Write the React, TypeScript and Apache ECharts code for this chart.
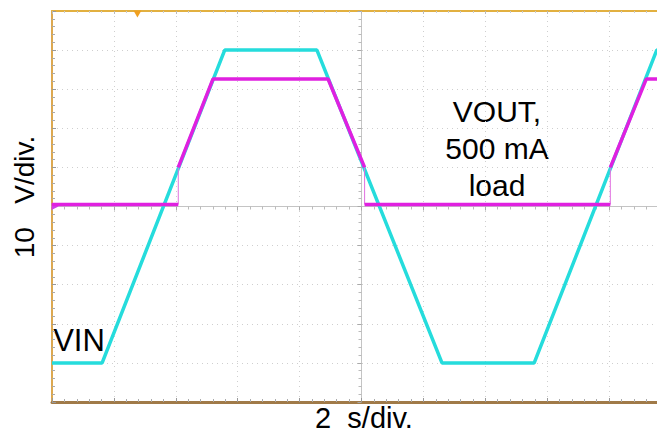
import React, { useEffect, useRef } from "react";
import * as echarts from "echarts";

// Oscilloscope screen in divisions: x -5..5 (2 s/div), y -5..5 (10 V/div)
const divRange = [-5, 5];

// VIN (cyan) trace, division coordinates
const vinX = [-5, -4.19, -2.21, -0.72, 1.3, 2.79, 4.77, 5];
const vinY = [-4, -4, 4, 4, -4, -4, 4, 4];

// VOUT (magenta) trace, division coordinates (vertical steps drawn thin)
const voutX = [-5, -2.96, -2.96, -2.4, -0.54, 0.05, 0.05, 4.02, 4.02, 4.6, 5];
const voutY = [0.05, 0.05, 1.0, 3.26, 3.26, 1.0, 0.05, 0.05, 1.0, 3.26, 3.26];

// Markers
const triggerX = -3.62;

const yLabel = "10   V/div.";
const xLabel = "2  s/div.";
const voutLabel = "VOUT,\n500 mA\nload";
const vinLabel = "VIN";

const FONT = '"Liberation Sans", Arial, sans-serif';

export default function App() {
  const ref = useRef<HTMLDivElement>(null);
  useEffect(() => {
    if (!ref.current) return;
    const chart = echarts.init(ref.current, null, { renderer: "svg" });

    const vinData = vinX.map((x, i) => [x, vinY[i]]);
    const thick: any[] = [];
    const thin: any[] = [];
    for (let i = 0; i < voutX.length - 1; i++) {
      const a = [voutX[i], voutY[i]];
      const b = [voutX[i + 1], voutY[i + 1]];
      if (voutX[i] === voutX[i + 1]) {
        thin.push(a, b, [voutX[i], null]);
        thick.push([voutX[i], null]);
      } else {
        thick.push(a, b);
      }
    }

    const gridDot = { color: "#cfcfcf", width: 1, type: [1, 4] as any };

    chart.setOption({
      animation: false,
      backgroundColor: "#ffffff",
      grid: {
        left: 52,
        top: 11,
        right: 19,
        bottom: 31,
        show: false,
      },
      xAxis: [
        {
          type: "value",
          min: divRange[0],
          max: divRange[1],
          interval: 1,
          position: "bottom",
          axisLine: { onZero: false, lineStyle: { color: "#a07a48", width: 3 } },
          axisTick: { show: true, inside: true, length: 4, lineStyle: { color: "#999" } },
          minorTick: { show: true, splitNumber: 5, length: 3, lineStyle: { color: "#aaa" } },
          axisLabel: { show: false },
          splitLine: { show: true, lineStyle: gridDot },
        },
        {
          type: "value",
          min: divRange[0],
          max: divRange[1],
          interval: 1,
          position: "top",
          axisLine: { onZero: true, lineStyle: { color: "#c4c4c4", width: 1 } },
          axisTick: { show: true, inside: true, length: 4, lineStyle: { color: "#aaa" } },
          minorTick: { show: true, splitNumber: 5, length: 3, lineStyle: { color: "#bbb" } },
          axisLabel: { show: false },
          splitLine: { show: false },
        },
        {
          type: "value",
          min: divRange[0],
          max: divRange[1],
          interval: 1,
          position: "top",
          axisLine: { onZero: false, lineStyle: { color: "#e2b040", width: 2 } },
          axisTick: { show: true, inside: true, length: 3, lineStyle: { color: "#bbb" } },
          minorTick: { show: true, splitNumber: 5, length: 2, lineStyle: { color: "#ccc" } },
          axisLabel: { show: false },
          splitLine: { show: false },
        },
      ],
      yAxis: [
        {
          type: "value",
          min: divRange[0],
          max: divRange[1],
          interval: 1,
          position: "left",
          axisLine: { onZero: false, lineStyle: { color: "#dca850", width: 2 } },
          axisTick: { show: true, inside: true, length: 4, lineStyle: { color: "#999" } },
          minorTick: { show: true, splitNumber: 5, length: 3, lineStyle: { color: "#aaa" } },
          axisLabel: { show: false },
          splitLine: { show: true, lineStyle: gridDot },
        },
        {
          type: "value",
          min: divRange[0],
          max: divRange[1],
          interval: 1,
          position: "right",
          axisLine: { onZero: true, lineStyle: { color: "#c4c4c4", width: 1 } },
          axisTick: { show: true, inside: true, length: 4, lineStyle: { color: "#aaa" } },
          minorTick: { show: true, splitNumber: 5, length: 3, lineStyle: { color: "#bbb" } },
          axisLabel: { show: false },
          splitLine: { show: false },
        },
      ],
      series: [
        {
          type: "line",
          name: "VIN",
          data: vinData,
          showSymbol: false,
          lineStyle: { color: "#25dcdc", width: 3.5 },
          z: 3,
          markPoint: {
            silent: true,
            label: { show: false },
            data: [
              {
                coord: [triggerX, divRange[1]],
                symbol: "triangle",
                symbolRotate: 180,
                symbolSize: [8, 7],
                symbolOffset: [0, 3],
                itemStyle: { color: "#f0a020" },
              },
              {
                coord: [divRange[0], 0],
                symbol: "triangle",
                symbolRotate: -90,
                symbolSize: [7, 7],
                symbolOffset: [3, 0],
                itemStyle: { color: "#d040e8" },
              },
            ],
          },
        },
        {
          type: "line",
          name: "VOUT steps",
          data: thin,
          showSymbol: false,
          connectNulls: false,
          lineStyle: { color: "#e070e0", width: 1 },
          z: 4,
        },
        {
          type: "line",
          name: "VOUT",
          data: thick,
          showSymbol: false,
          connectNulls: false,
          lineStyle: { color: "#e020e0", width: 3.5 },
          z: 5,
        },
      ],
      graphic: [
        {
          type: "text",
          x: 24,
          y: 197,
          rotation: Math.PI / 2,
          style: { text: yLabel, fontSize: 28, fontFamily: FONT, fill: "#000", align: "center", verticalAlign: "middle" },
        },
        {
          type: "text",
          x: 364,
          y: 418,
          style: { text: xLabel, fontSize: 29, fontFamily: FONT, fill: "#000", align: "center", verticalAlign: "middle" },
        },
        {
          type: "text",
          x: 497,
          y: 148,
          style: { text: voutLabel, fontSize: 30, lineHeight: 37, fontFamily: FONT, fill: "#000", align: "center", verticalAlign: "middle" },
        },
        {
          type: "text",
          x: 79,
          y: 340,
          style: { text: vinLabel, fontSize: 31, fontFamily: FONT, fill: "#000", align: "center", verticalAlign: "middle" },
        },
      ],
    });
    return () => chart.dispose();
  }, []);
  return (
    <div style={{ position: "absolute", left: 0, top: 0, width: 657, height: 433, overflow: "hidden" }}>
      <div ref={ref} style={{ width: 690, height: 433 }} />
    </div>
  );
}
